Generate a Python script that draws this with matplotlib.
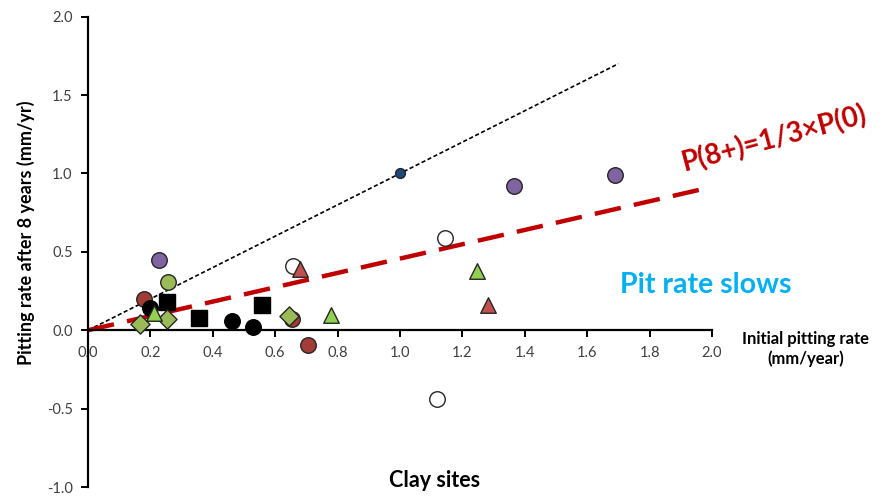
import numpy as np
import matplotlib.pyplot as plt

plt.rcParams['font.family'] = ['Lato', 'DejaVu Sans']

# initial pitting rate (x) vs pitting rate after 8 years (y), mm/yr
purple_x = [0.228, 1.365, 1.689]
purple_y = [0.45, 0.917, 0.99]
green_circ_x = [0.256]
green_circ_y = [0.31]
brown_x = [0.18, 0.654, 0.705]
brown_y = [0.20, 0.07, -0.095]
black_circ_x = [0.20, 0.46, 0.53]
black_circ_y = [0.14, 0.06, 0.02]
open_x = [0.657, 1.144, 1.118]
open_y = [0.41, 0.59, -0.44]
square_x = [0.253, 0.356, 0.558]
square_y = [0.18, 0.08, 0.16]
diamond_x = [0.167, 0.253, 0.644]
diamond_y = [0.04, 0.07, 0.09]
green_tri_x = [0.21, 0.78, 1.247]
green_tri_y = [0.11, 0.095, 0.38]
red_tri_x = [0.68, 1.282]
red_tri_y = [0.39, 0.16]
blue_x = [1.0]
blue_y = [1.0]

# reference lines
one_to_one = [0.0, 1.70]
slow_x = [0.0, 1.98]
slow_y = [0.0, 0.905]

fig = plt.figure(figsize=(8.87, 4.98), dpi=100)
ax = fig.add_axes([0.0992, 0.022, 0.7035, 0.9445])

ax.plot(one_to_one, one_to_one, color='black', lw=1.2, ls=(0, (2.5, 1.5)), zorder=2)
ax.plot(slow_x, slow_y, color='#C00000', lw=3.2, ls=(0, (6, 3)), zorder=2)

ms = 125
ax.scatter(purple_x, purple_y, s=ms, c='#8064A2', edgecolors='#262626', lw=1, zorder=3)
ax.scatter(green_circ_x, green_circ_y, s=ms, c='#9BBB59', edgecolors='#262626', lw=1, zorder=3)
ax.scatter(brown_x, brown_y, s=ms, c='#A33B38', edgecolors='#262626', lw=1, zorder=3)
ax.scatter(black_circ_x, black_circ_y, s=ms, c='black', edgecolors='black', lw=1, zorder=4)
ax.scatter(open_x, open_y, s=ms, c='white', edgecolors='#262626', lw=1, zorder=3)
ax.scatter(square_x, square_y, s=ms, marker='s', c='black', edgecolors='black', lw=1, zorder=3)
ax.scatter(diamond_x, diamond_y, s=95, marker='D', c='#9BBB59', edgecolors='#262626', lw=1, zorder=5)
ax.scatter(green_tri_x, green_tri_y, s=ms, marker='^', c='#92D050', edgecolors='#262626', lw=1, zorder=5)
ax.scatter(red_tri_x, red_tri_y, s=ms, marker='^', c='#C0504D', edgecolors='#262626', lw=1, zorder=5)
ax.scatter(blue_x, blue_y, s=50, c='#1F497D', edgecolors='#262626', lw=1, zorder=5)

ax.set_xlim(0, 2.0)
ax.set_ylim(-1.0, 2.0)
ax.spines['left'].set_position(('data', 0))
ax.spines['bottom'].set_position(('data', 0))
ax.spines['top'].set_visible(False)
ax.spines['right'].set_visible(False)
for s in ['left', 'bottom']:
    ax.spines[s].set_linewidth(1.6)
ax.set_xticks(np.arange(0, 2.01, 0.2))
ax.set_yticks(np.arange(-1.0, 2.01, 0.5))
ax.xaxis.set_major_formatter(plt.FormatStrFormatter('%.1f'))
ax.yaxis.set_major_formatter(plt.FormatStrFormatter('%.1f'))
ax.tick_params(direction='out', length=5, width=1.4, labelsize=10.5,
               labelcolor='#404040', pad=6)
ax.patch.set_visible(False)

ax.text(-0.2, 0.62, 'Pitting rate after 8 years (mm/yr)', rotation=90, ha='center',
        va='center', fontsize=13, fontweight='bold')
ax.text(2.3, -0.12, 'Initial pitting rate\n(mm/year)', ha='center', va='center',
        fontsize=12, fontweight='bold', linespacing=1.2)
ax.text(1.11, -0.96, 'Clay sites', ha='center', va='center', fontsize=15.5, fontweight='bold')
ax.text(1.98, 0.29, 'Pit rate slows', ha='center', va='center', fontsize=20.5,
        fontweight='bold', color='#00B0F0')
ax.text(2.2, 1.22, 'P(8+)=1/3×P(0)', ha='center', va='center', fontsize=20,
        fontweight='bold', color='#C00000', rotation=15, rotation_mode='anchor')

fig.savefig('out.png', dpi=100)
